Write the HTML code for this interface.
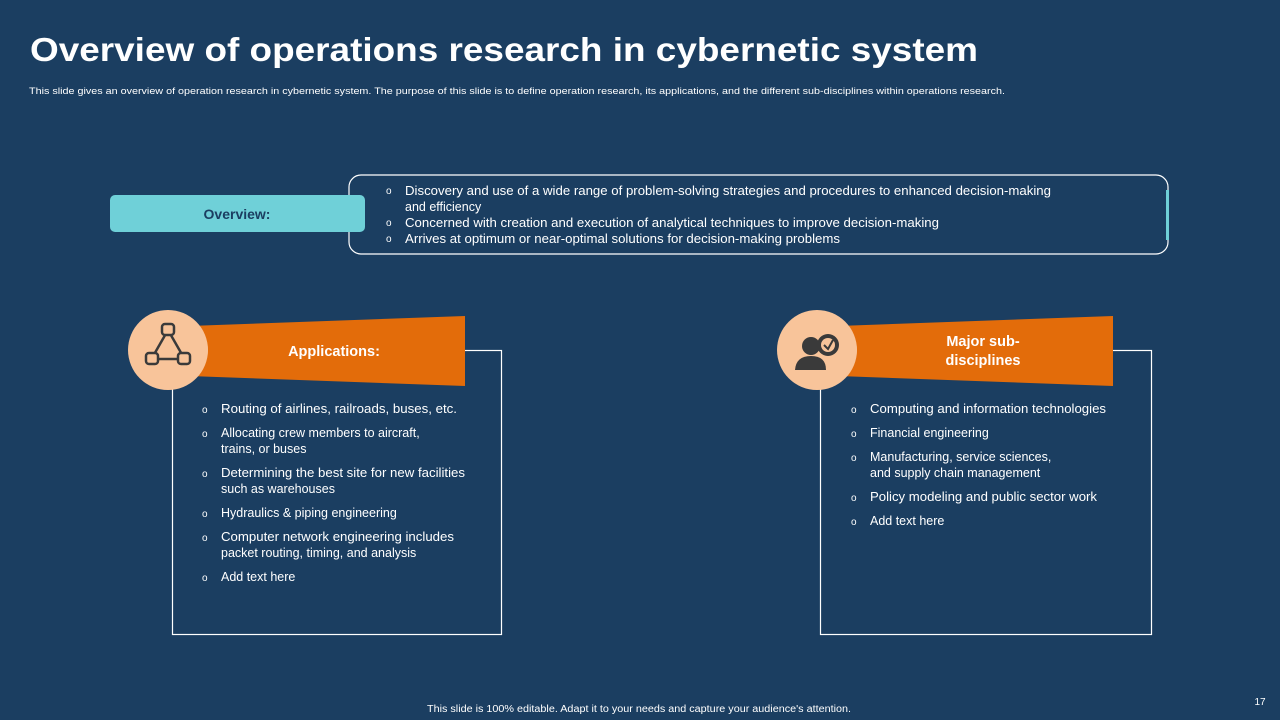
<!DOCTYPE html>
<html><head><meta charset="utf-8"><style>
html,body{margin:0;padding:0;background:#1b3e61;}
svg{display:block}
text{font-family:"Liberation Sans",Arial,sans-serif;fill:#fff}
.b{font-size:10px}
</style></head><body>
<svg width="1280" height="720" viewBox="0 0 1280 720">
<rect width="1280" height="720" fill="#1b3e61"/>
<text x="30" y="61" font-size="33" font-weight="bold" textLength="948" lengthAdjust="spacingAndGlyphs">Overview of operations research in cybernetic system</text>
<text x="29" y="94" font-size="9.5" textLength="976" lengthAdjust="spacingAndGlyphs">This slide gives an overview of operation research in cybernetic system. The purpose of this slide is to define operation research, its applications, and the different sub-disciplines within operations research.</text>

<rect x="349" y="175" width="819" height="79" rx="12" fill="none" stroke="#fff" stroke-width="1.2"/>
<rect x="1166" y="190" width="3" height="50" fill="#6fd0d8"/>
<rect x="110" y="195" width="255" height="37" rx="5" fill="#6fd0d8"/>
<text x="237" y="219" font-size="14" font-weight="bold" text-anchor="middle" style="fill:#1b3e61">Overview:</text>
<g font-size="12.5">
<text class="b" x="386" y="194">o</text><text x="405" y="195" textLength="646" lengthAdjust="spacingAndGlyphs">Discovery and use of a wide range of problem-solving  strategies and procedures to enhanced decision-making</text>
<text x="405" y="211">and efficiency</text>
<text class="b" x="386" y="226">o</text><text x="405" y="227" textLength="534" lengthAdjust="spacingAndGlyphs">Concerned with creation and execution of analytical techniques to improve  decision-making</text>
<text class="b" x="386" y="242">o</text><text x="405" y="243" textLength="435" lengthAdjust="spacingAndGlyphs">Arrives  at optimum or near-optimal  solutions for  decision-making  problems</text>
</g>

<rect x="172.5" y="350.5" width="329" height="284" fill="none" stroke="#fff" stroke-width="1.2"/>
<rect x="145" y="330" width="60" height="50" fill="#1b3e61"/>
<polygon points="189,326 465,316 465,386 189,376" fill="#e36c0a"/>
<circle cx="168" cy="350" r="40" fill="#f8c49a"/>
<circle cx="190" cy="350" r="18" fill="#f8c49a"/>
<g stroke="#3a3a3a" stroke-width="2.5" fill="#f8c49a">
<line x1="168" y1="330" x2="152" y2="358"/><line x1="168" y1="330" x2="184" y2="358"/><line x1="152" y1="359" x2="184" y2="359"/>
<rect x="162" y="324" width="12" height="11" rx="3"/><rect x="146" y="353" width="12" height="11" rx="3"/><rect x="178" y="353" width="12" height="11" rx="3"/>
</g>
<text x="334" y="356" font-size="14.5" font-weight="bold" text-anchor="middle">Applications:</text>
<g font-size="12.5">
<text class="b" x="202" y="413">o</text><text x="221" y="413" textLength="236" lengthAdjust="spacingAndGlyphs">Routing of airlines, railroads,  buses, etc.</text>
<text class="b" x="202" y="437">o</text><text x="221" y="437">Allocating crew members to aircraft,</text><text x="221" y="453">trains, or buses</text>
<text class="b" x="202" y="477">o</text><text x="221" y="477" textLength="244" lengthAdjust="spacingAndGlyphs">Determining the best site for new facilities</text><text x="221" y="493">such as warehouses</text>
<text class="b" x="202" y="517">o</text><text x="221" y="517">Hydraulics &amp; piping engineering</text>
<text class="b" x="202" y="541">o</text><text x="221" y="541" textLength="233" lengthAdjust="spacingAndGlyphs">Computer network engineering includes</text><text x="221" y="557">packet routing, timing, and analysis</text>
<text class="b" x="202" y="581">o</text><text x="221" y="581">Add text here</text>
</g>

<rect x="820.5" y="350.5" width="331" height="284" fill="none" stroke="#fff" stroke-width="1.2"/>
<rect x="795" y="330" width="60" height="50" fill="#1b3e61"/>
<polygon points="838,326 1113,316 1113,386 838,376" fill="#e36c0a"/>
<circle cx="817" cy="350" r="40" fill="#f8c49a"/>
<circle cx="839" cy="350" r="18" fill="#f8c49a"/>
<g fill="#3a3a3a">
<circle cx="828" cy="345" r="11"/>
<circle cx="811" cy="346" r="9"/>
<path d="M795 370 Q796 356 811 356 Q826 356 826 370 Z"/>
</g>
<circle cx="828" cy="345" r="7" fill="#f8c49a"/>
<path d="M824 345 L828 349 L833 340" stroke="#3a3a3a" stroke-width="2" fill="none"/>
<text x="983" y="346" font-size="14.5" font-weight="bold" text-anchor="middle">Major sub-</text>
<text x="983" y="365" font-size="14.5" font-weight="bold" text-anchor="middle">disciplines</text>
<g font-size="12.5">
<text class="b" x="851" y="413">o</text><text x="870" y="413" textLength="236" lengthAdjust="spacingAndGlyphs">Computing  and information  technologies</text>
<text class="b" x="851" y="437">o</text><text x="870" y="437">Financial engineering</text>
<text class="b" x="851" y="461">o</text><text x="870" y="461">Manufacturing,  service sciences,</text><text x="870" y="477">and supply chain management</text>
<text class="b" x="851" y="501">o</text><text x="870" y="501" textLength="227" lengthAdjust="spacingAndGlyphs">Policy modeling and public sector work</text>
<text class="b" x="851" y="525">o</text><text x="870" y="525">Add text here</text>
</g>

<text x="639" y="712" font-size="10" text-anchor="middle" textLength="424" lengthAdjust="spacingAndGlyphs">This slide is 100% editable.  Adapt it to your needs and capture your audience's attention.</text>
<text x="1260" y="705" font-size="10" text-anchor="middle">17</text>
</svg>
</body></html>
